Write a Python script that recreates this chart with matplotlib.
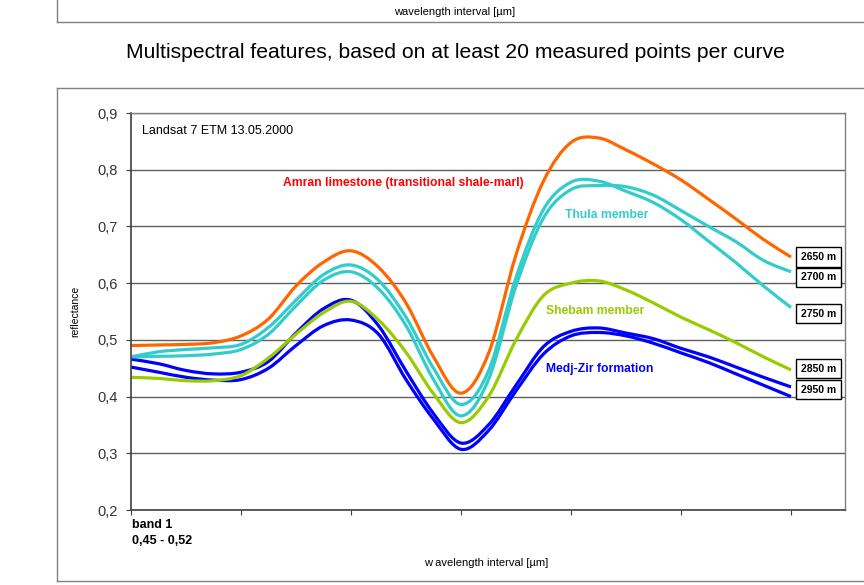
import matplotlib
matplotlib.use("Agg")
import matplotlib.pyplot as plt
from matplotlib.lines import Line2D
from matplotlib.path import Path
from matplotlib.patches import PathPatch

plt.rcParams['font.family'] = ['Liberation Sans', 'DejaVu Sans']

W, H = 864, 585

# position le long de l'axe des bandes (0 = band 1, une graduation par bande)
x = [0, 0.25, 0.5, 0.75, 1, 1.25, 1.5, 1.75, 2, 2.25, 2.5, 2.75, 3,
     3.25, 3.5, 3.75, 4, 4.25, 4.5, 4.75, 5, 5.25, 5.5, 5.75, 6]

# reflectance par profondeur
amran_2650 = [0.490, 0.491, 0.492, 0.495, 0.507, 0.537, 0.595, 0.637, 0.657,
              0.628, 0.565, 0.470, 0.406, 0.476, 0.650, 0.780, 0.848, 0.856,
              0.835, 0.810, 0.782, 0.748, 0.713, 0.677, 0.646]
thula_2700 = [0.470, 0.471, 0.472, 0.475, 0.483, 0.510, 0.560, 0.605, 0.620,
              0.590, 0.525, 0.430, 0.366, 0.430, 0.595, 0.715, 0.765, 0.772,
              0.770, 0.755, 0.728, 0.700, 0.673, 0.640, 0.620]
thula_2750 = [0.470, 0.479, 0.483, 0.486, 0.492, 0.522, 0.570, 0.615, 0.632,
              0.605, 0.540, 0.450, 0.386, 0.445, 0.610, 0.730, 0.778, 0.780,
              0.762, 0.742, 0.712, 0.674, 0.636, 0.595, 0.557]
shebam_2850 = [0.434, 0.432, 0.428, 0.428, 0.437, 0.468, 0.510, 0.548, 0.568,
               0.535, 0.478, 0.405, 0.354, 0.400, 0.500, 0.578, 0.600, 0.604,
               0.588, 0.565, 0.540, 0.518, 0.495, 0.470, 0.447]
medjzir_2950 = [0.466, 0.458, 0.446, 0.440, 0.443, 0.462, 0.512, 0.555, 0.570,
                0.525, 0.445, 0.370, 0.318, 0.350, 0.420, 0.488, 0.515, 0.521,
                0.512, 0.502, 0.485, 0.470, 0.452, 0.434, 0.417]
medjzir_b = [0.452, 0.443, 0.434, 0.429, 0.430, 0.450, 0.490, 0.525, 0.535,
             0.510, 0.430, 0.360, 0.307, 0.340, 0.410, 0.475, 0.507, 0.513,
             0.507, 0.494, 0.477, 0.460, 0.440, 0.420, 0.400]

depth_labels = ['2650 m', '2700 m', '2750 m', '2850 m', '2950 m']
depth_label_y = [0.646, 0.610, 0.546, 0.449, 0.412]

ytick_values = [0.2, 0.3, 0.4, 0.5, 0.6, 0.7, 0.8, 0.9]
ytick_labels = ['0,2', '0,3', '0,4', '0,5', '0,6', '0,7', '0,8', '0,9']
xtick_values = [0, 1, 2, 3, 4, 5, 6]

ORANGE = '#ff6600'
CYAN = '#33cccc'
GREEN = '#99cc00'
BLUE = '#0000ff'


def fx(px):
    return px / W


def fy(py):
    return 1 - py / H


def courbe_lisse(ax, xs, ys, color, lw):
    # ligne lissee comme dans Excel (Bezier de type Catmull-Rom passant par les points)
    pts = list(zip(xs, ys))
    verts = [pts[0]]
    codes = [Path.MOVETO]
    n = len(pts)
    for i in range(n - 1):
        p0 = pts[i - 1] if i > 0 else pts[i]
        p1 = pts[i]
        p2 = pts[i + 1]
        p3 = pts[i + 2] if i + 2 < n else pts[i + 1]
        c1 = (p1[0] + (p2[0] - p0[0]) / 6, p1[1] + (p2[1] - p0[1]) / 6)
        c2 = (p2[0] - (p3[0] - p1[0]) / 6, p2[1] - (p3[1] - p1[1]) / 6)
        verts += [c1, c2, p2]
        codes += [Path.CURVE4] * 3
    ax.add_patch(PathPatch(Path(verts, codes), fill=False, ec=color, lw=lw, capstyle='butt'))


fig = plt.figure(figsize=(W / 100, H / 100), dpi=100)

# cadres gris (bas du graphe precedent + cadre de celui-ci)
frame = '#808080'
fig.add_artist(Line2D([fx(57), fx(57)], [fy(0), fy(22)], color=frame, lw=1))
fig.add_artist(Line2D([fx(57), 1], [fy(22), fy(22)], color=frame, lw=1))
fig.add_artist(Line2D([fx(57), fx(57)], [fy(88), fy(581)], color=frame, lw=1))
fig.add_artist(Line2D([fx(57), 1], [fy(88), fy(88)], color=frame, lw=1))
fig.add_artist(Line2D([fx(57), 1], [fy(581), fy(581)], color=frame, lw=1))

fig.text(fx(455), fy(12), 'wavelength interval [µm]', ha='center', va='center', fontsize=8)
fig.text(fx(455), fy(52), 'Multispectral features, based on at least 20 measured points per curve',
         ha='center', va='center', fontsize=15.2)

ax = fig.add_axes([fx(131), fy(510), fx(845) - fx(131), fy(113) - fy(510)])

lw = 2.3
courbe_lisse(ax, x, medjzir_b, BLUE, lw)
courbe_lisse(ax, x, medjzir_2950, BLUE, lw)
courbe_lisse(ax, x, shebam_2850, GREEN, lw)
courbe_lisse(ax, x, thula_2700, CYAN, lw)
courbe_lisse(ax, x, thula_2750, CYAN, lw)
courbe_lisse(ax, x, amran_2650, ORANGE, lw)

ax.set_xlim(0, (845 - 131) / 110)
ax.set_ylim(0.2, 0.9)
ax.set_xticks(xtick_values)
ax.set_xticklabels([])
ax.set_yticks(ytick_values)
ax.set_yticklabels(ytick_labels)
ax.tick_params(axis='y', length=3.6, pad=6, color='#404040', labelsize=10.5, labelcolor='#333333')
ax.tick_params(axis='x', length=3.6, color='#404040')
ax.yaxis.grid(True, color='#606060', lw=1)
ax.set_axisbelow(True)
for side in ['left', 'bottom']:
    ax.spines[side].set_color('#404040')
    ax.spines[side].set_linewidth(1.2)
for side in ['top', 'right']:
    ax.spines[side].set_color('#808080')
    ax.spines[side].set_linewidth(1)

# annotations dans le graphe
ax.text(0.1, 0.868, 'Landsat 7 ETM 13.05.2000', fontsize=9, va='center')
ax.text(1.38, 0.777, 'Amran limestone (transitional shale-marl)', color='#ff0000',
        fontsize=8.7, fontweight='bold', va='center')
ax.text(3.945, 0.72, 'Thula member', color=CYAN, fontsize=8.7, fontweight='bold', va='center')
ax.text(3.77, 0.551, 'Shebam member', color=GREEN, fontsize=8.7, fontweight='bold', va='center')
ax.text(3.77, 0.449, 'Medj-Zir formation', color=BLUE, fontsize=8.7, fontweight='bold', va='center')

for lab, yl in zip(depth_labels, depth_label_y):
    ax.text(6.09, yl, lab, fontsize=7.5, fontweight='bold', va='center', ha='left',
            bbox=dict(boxstyle='square,pad=0.45', fc='white', ec='black', lw=1))

ax.set_ylabel('reflectance', fontsize=7.5, labelpad=12)

fig.text(fx(132), fy(525), 'band 1', fontsize=9, fontweight='bold', va='center')
fig.text(fx(132), fy(541), '0,45 - 0,52', fontsize=9, fontweight='bold', va='center')
fig.text(fx(486), fy(563), 'w avelength interval [µm]', ha='center', va='center', fontsize=8)

fig.savefig('out.png', dpi=100)
